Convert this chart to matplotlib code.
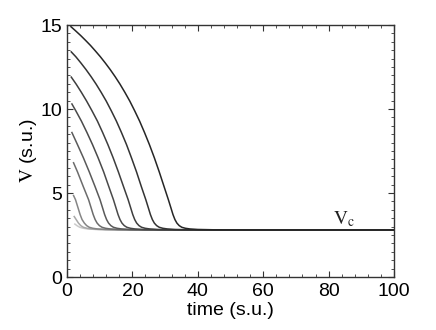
import matplotlib
matplotlib.use('Agg')
import matplotlib.pyplot as plt
from matplotlib.ticker import MultipleLocator

plt.rcParams['font.family'] = ['Liberation Sans', 'DejaVu Sans']
plt.rcParams['mathtext.fontset'] = 'stix'

# curves, from highest start value (darkest) to lowest (lightest)
t1 = [1.2, 2.7, 4.2, 5.7, 7.2, 8.7, 10.2, 11.7, 13.2, 14.7, 16.2, 17.7, 19.2, 20.7, 22.2, 23.7, 25.2, 26.7, 28.2,
      29.7, 31.0, 31.8, 32.4, 33.0, 33.6, 34.3, 35.1, 36.2, 37.6, 40, 45, 55, 100]
v1 = [14.9, 14.64, 14.37, 14.08, 13.78, 13.45, 13.11, 12.74, 12.35, 11.93, 11.48, 10.99, 10.47, 9.89, 9.28, 8.60,
      7.88, 7.10, 6.26, 5.37, 4.6, 4.1, 3.72, 3.42, 3.21, 3.06, 2.96, 2.9, 2.86, 2.83, 2.81, 2.8, 2.8]

t2 = [1.3, 2.7, 4.25, 5.8, 7.35, 8.9, 10.45, 12.0, 13.55, 15.1, 16.65, 18.2, 19.7, 21.25, 22.75, 24.1, 24.9, 25.5,
      26.1, 26.7, 27.4, 28.2, 29.3, 30.7, 33.1, 38.1, 48.1, 100]
v2 = [13.4, 13.11, 12.74, 12.35, 11.93, 11.48, 10.99, 10.47, 9.89, 9.28, 8.60, 7.88, 7.10, 6.26, 5.37, 4.6, 4.1,
      3.72, 3.42, 3.21, 3.06, 2.96, 2.9, 2.86, 2.83, 2.81, 2.8, 2.8]

t3 = [1.3, 2.8, 4.4, 6.0, 7.65, 9.3, 10.9, 12.5, 14.1, 15.7, 17.3, 18.7, 19.5, 20.1, 20.7, 21.3, 22.0, 22.8, 23.9,
      25.3, 27.7, 32.7, 42.7, 100]
v3 = [11.9, 11.48, 10.99, 10.47, 9.89, 9.28, 8.60, 7.88, 7.10, 6.26, 5.37, 4.6, 4.1, 3.72, 3.42, 3.21, 3.06, 2.96,
      2.9, 2.86, 2.83, 2.81, 2.8, 2.8]

t4 = [1.5, 2.7, 4.4, 6.1, 7.8, 9.5, 11.2, 12.8, 14.2, 15.0, 15.6, 16.2, 16.8, 17.5, 18.3, 19.4, 20.8, 23.2, 28.2,
      38.2, 100]
v4 = [10.3, 9.89, 9.28, 8.60, 7.88, 7.10, 6.26, 5.37, 4.6, 4.1, 3.72, 3.42, 3.21, 3.06, 2.96, 2.9, 2.86, 2.83, 2.81,
      2.8, 2.8]

t5 = [1.5, 3.2, 5.0, 6.8, 8.6, 10.1, 10.9, 11.5, 12.1, 12.7, 13.4, 14.2, 15.3, 16.7, 19.1, 24.1, 34.1, 100]
v5 = [8.6, 7.88, 7.10, 6.26, 5.37, 4.6, 4.1, 3.72, 3.42, 3.21, 3.06, 2.96, 2.9, 2.86, 2.83, 2.81, 2.8, 2.8]

t6 = [2.0, 3.2, 5.0, 6.6, 7.4, 8.0, 8.6, 9.2, 9.9, 10.7, 11.8, 13.2, 15.6, 20.6, 30.6, 100]
v6 = [6.8, 6.26, 5.37, 4.6, 4.1, 3.72, 3.42, 3.21, 3.06, 2.96, 2.9, 2.86, 2.83, 2.81, 2.8, 2.8]

t7 = [2.0, 2.6, 3.4, 4.0, 4.6, 5.3, 6.0, 6.8, 7.9, 9.3, 11.7, 16.7, 26.7, 100]
v7 = [4.85, 4.6, 4.1, 3.72, 3.42, 3.21, 3.06, 2.96, 2.9, 2.86, 2.83, 2.81, 2.8, 2.8]

t8 = [2.2, 2.8, 3.5, 4.2, 5.0, 6.1, 7.5, 9.9, 14.9, 24.9, 100]
v8 = [3.6, 3.42, 3.21, 3.06, 2.96, 2.9, 2.86, 2.83, 2.81, 2.8, 2.8]

t9 = [2.4, 3.1, 3.9, 5.0, 6.4, 8.8, 13.8, 23.8, 100]
v9 = [3.15, 3.05, 2.96, 2.9, 2.86, 2.83, 2.81, 2.8, 2.8]

curves = [(t1, v1), (t2, v2), (t3, v3), (t4, v4), (t5, v5), (t6, v6), (t7, v7), (t8, v8), (t9, v9)]
grays = ['#262626', '#333333', '#3e3e3e', '#4a4a4a', '#5a5a5a', '#6c6c6c', '#858585', '#a8a8a8', '#cacaca']

fig = plt.figure(figsize=(4.36, 3.30), dpi=100)
ax = fig.add_axes([0.1537, 0.1606, 0.75, 0.7636])

# lightest first so the dark curves sit on top along the plateau
for (t, v), c in reversed(list(zip(curves, grays))):
    ax.plot(t, v, color=c, lw=1.1, solid_joinstyle='round')

ax.text(81.3, 3.15, r'$\mathrm{V}_\mathrm{c}$', fontsize=14, color='#222222')

ax.set_xlim(0, 100)
ax.set_ylim(0, 15)
ax.xaxis.set_major_locator(MultipleLocator(20))
ax.xaxis.set_minor_locator(MultipleLocator(4))
ax.yaxis.set_major_locator(MultipleLocator(5))
ax.yaxis.set_minor_locator(MultipleLocator(0.5))
ax.tick_params(which='both', direction='in', top=True, right=True, color='#333333')
ax.tick_params(which='major', length=4, labelsize=14)
ax.tick_params(which='minor', length=2)
ax.tick_params(axis='x', which='major', pad=4)
ax.tick_params(axis='y', which='major', pad=3.5)
for s in ax.spines.values():
    s.set_color('#333333')
    s.set_linewidth(1.0)

ax.set_xlabel('time (s.u.)', fontsize=14, labelpad=2)
ax.set_ylabel(r'$\mathrm{V}$ (s.u.)', fontsize=14, labelpad=1)

fig.savefig('out.png', dpi=100)
